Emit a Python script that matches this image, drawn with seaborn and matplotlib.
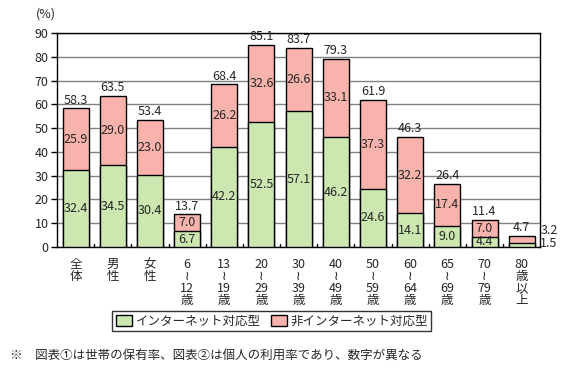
import matplotlib
matplotlib.use("Agg")
import matplotlib.pyplot as plt
import seaborn as sns
import pandas as pd
from matplotlib.patches import Patch

categories = ["全\n体", "男\n性", "女\n性", "6\n≀\n12\n歳", "13\n≀\n19\n歳", "20\n≀\n29\n歳",
              "30\n≀\n39\n歳", "40\n≀\n49\n歳", "50\n≀\n59\n歳", "60\n≀\n64\n歳",
              "65\n≀\n69\n歳", "70\n≀\n79\n歳", "80\n歳\n以\n上"]
internet = [32.4, 34.5, 30.4, 6.7, 42.2, 52.5, 57.1, 46.2, 24.6, 14.1, 9.0, 4.4, 1.5]
non_internet = [25.9, 29.0, 23.0, 7.0, 26.2, 32.6, 26.6, 33.1, 37.3, 32.2, 17.4, 7.0, 3.2]
totals = [58.3, 63.5, 53.4, 13.7, 68.4, 85.1, 83.7, 79.3, 61.9, 46.3, 26.4, 11.4, 4.7]
series_names = ["インターネット対応型", "非インターネット対応型"]

sns.set_theme(style="white")
plt.rcParams["font.family"] = ["Noto Sans CJK JP", "DejaVu Sans"]
plt.rcParams["font.size"] = 8

GREEN = "#cce8b0"
PINK = "#f8b4ac"

fig = plt.figure(figsize=(5.76, 3.72), dpi=100)
ax = fig.add_axes([0.099, 0.336, 0.839, 0.575])

df = pd.DataFrame({"cat": categories, "internet": internet, "total": totals})
sns.barplot(data=df, x="cat", y="total", color=PINK, edgecolor="black", linewidth=1,
            width=0.7, saturation=1, ax=ax, zorder=3)
sns.barplot(data=df, x="cat", y="internet", color=GREEN, edgecolor="black", linewidth=1,
            width=0.7, saturation=1, ax=ax, zorder=3)

ax.set_ylim(0, 90)
ax.set_xlim(-0.5, len(categories) - 0.5)
ax.set_yticks(range(0, 91, 10))
ax.yaxis.grid(True, color="#808080", linewidth=1)
ax.set_axisbelow(True)
for s in ax.spines.values():
    s.set_visible(True)
    s.set_color("black")
    s.set_linewidth(1)
ax.set_xlabel("")
ax.set_ylabel("")
ax.tick_params(axis="y", left=True, length=4, width=1, color="black", labelsize=9, pad=2)
ax.tick_params(axis="x", bottom=False, labelsize=9, pad=2)
for lbl in ax.get_xticklabels():
    lbl.set_linespacing(0.9)
for i in range(len(categories) - 1):
    ax.plot([i + 0.5, i + 0.5], [0, 1.2], color="black", lw=1, zorder=4, clip_on=False)
ax.text(-0.023, 1.06, "(%)", transform=ax.transAxes, ha="center", va="bottom", fontsize=9)

n = len(categories)
for i in range(n):
    g, p, t = internet[i], non_internet[i], totals[i]
    ax.text(i, t + 0.8, f"{t:.1f}", ha="center", va="bottom", fontsize=9, zorder=5)
    if i == n - 1:
        ax.text(i + 0.5, 7.0, f"{p:.1f}", ha="left", va="center", fontsize=9, zorder=5, clip_on=False)
        ax.text(i + 0.5, 1.4, f"{g:.1f}", ha="left", va="center", fontsize=9, zorder=5, clip_on=False)
    else:
        ax.text(i, g / 2, f"{g:.1f}", ha="center", va="center", fontsize=9, zorder=5)
        ax.text(i, g + p / 2, f"{p:.1f}", ha="center", va="center", fontsize=9, zorder=5)

handles = [Patch(facecolor=GREEN, edgecolor="black"), Patch(facecolor=PINK, edgecolor="black")]
leg = fig.legend(handles, series_names, ncol=2, loc="center",
                 bbox_to_anchor=(0.472, 1 - 321 / 372), bbox_transform=fig.transFigure,
                 frameon=True, fancybox=False, edgecolor="black", fontsize=9,
                 handlelength=1.3, handleheight=1.0, handletextpad=0.3, columnspacing=0.8,
                 borderpad=0.25)
leg.get_frame().set_linewidth(1)

fig.text(10 / 576, 1 - 355 / 372, "※　図表①は世帯の保有率、図表②は個人の利用率であり、数字が異なる",
         ha="left", va="center", fontsize=9)

fig.savefig("out.png", dpi=100)
